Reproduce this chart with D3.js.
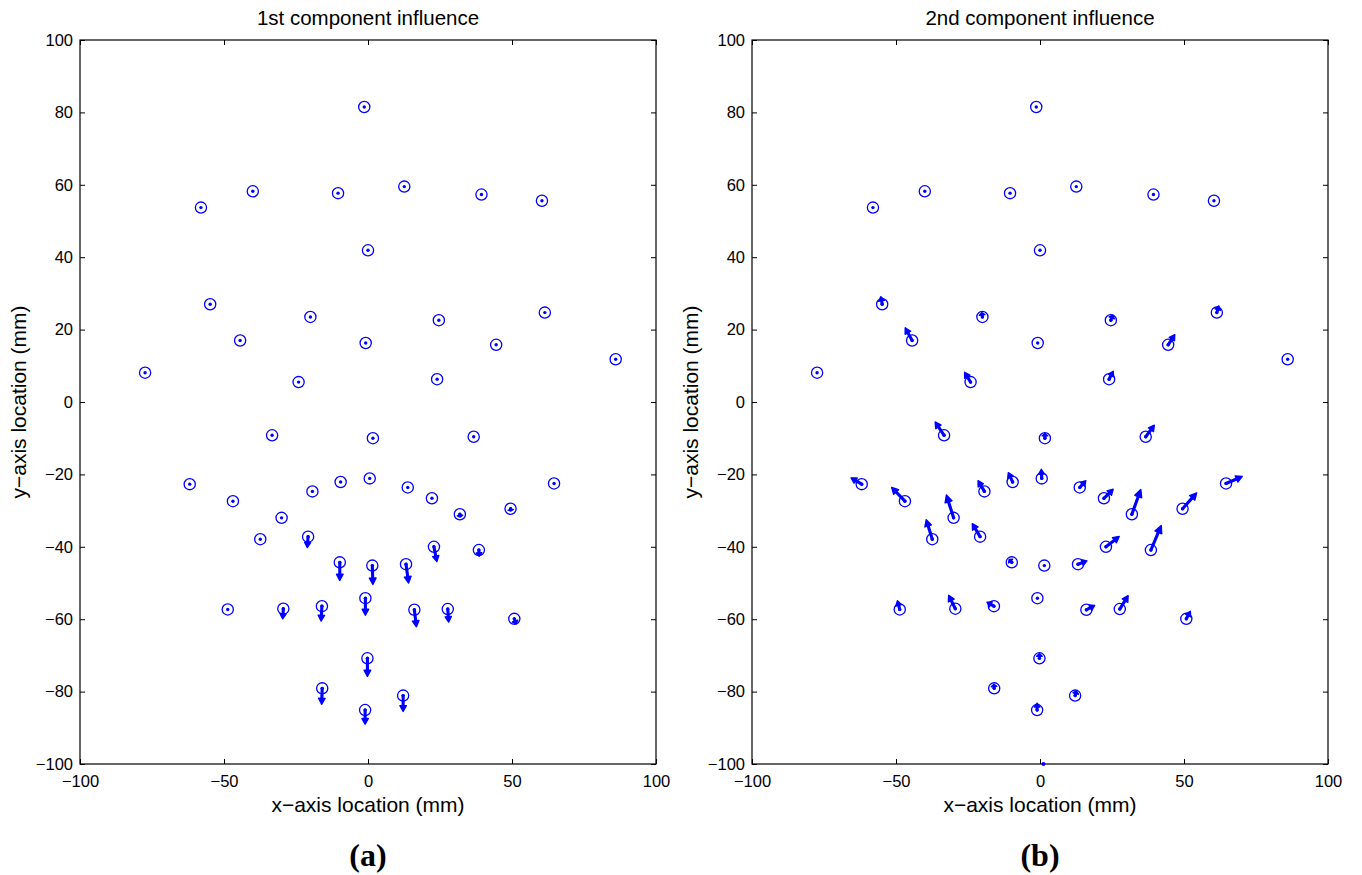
<!DOCTYPE html>
<html><head><meta charset="utf-8">
<script src="https://cdn.jsdelivr.net/npm/d3@7"></script>
<style>
body{margin:0;background:#fff}
svg{display:block}
text{font-family:"Liberation Sans",Arial,Helvetica,sans-serif;fill:#000}
</style>
</head><body>
<svg id="chart" width="1362" height="875"></svg>
<script>
// electrode locations (mm)
const sensorX = [-1.3,-58,-40,-10.4,12.6,39.4,60.4,0,-54.8,-20,-44.4,-0.8,24.6,44.5,61.4,86,-77.4,-24.1,24,-33.3,1.7,36.7,-61.9,-46.9,-19.3,-9.5,0.6,13.8,22.2,31.9,49.5,64.6,-30,-37.4,-20.8,-9.8,1.5,13.2,22.9,38.5,-48.7,-29.4,-16,-0.9,16.1,27.7,50.8,-0.2,-15.9,12.2,-1];
const sensorY = [81.5,53.7,58.2,57.7,59.5,57.3,55.6,41.9,27,23.5,17,16.3,22.6,15.8,24.7,11.8,8.1,5.5,6.3,-9.2,-10,-9.6,-22.7,-27.4,-24.7,-22.1,-21.1,-23.6,-26.6,-31,-29.5,-22.5,-32,-37.9,-37.2,-44.3,-45.2,-44.8,-40,-40.9,-57.3,-57.1,-56.4,-54.2,-57.4,-57.2,-59.9,-70.8,-79.1,-81.1,-85.1];

// 1st component influence vectors (mm)
const comp1U = [0,0,0,0,0,0,0,0,0,0,0,0,0,0,0,0,0,0,0,0,0,0,0,0,0,0,0,0,0,0.1,0.1,0,0,0,-0.3,0,0.2,0.9,1.0,0.1,0,-0.2,-0.3,0,0.7,0.3,0.6,0,-0.2,0,0];
const comp1V = [0,0,0,0,0,0,0,0,0,0,0,0,0,0,0,0,0,0,0,0,0,0,0,0,0,0,0,0,0,-0.8,-0.6,0,0,0,-3.0,-5.0,-5.2,-5.2,-4.1,-1.7,0,-2.8,-4.1,-4.7,-4.7,-3.6,-1.4,-5.0,-4.4,-4.4,-3.9];

// 2nd component influence vectors (mm)
const comp2U = [0,0,0,0,0,0,0,0,-0.45,-0.2,-2.4,0,0.7,2.3,0.7,0,0,-2.1,1.4,-3.1,0,3.0,-3.7,-4.6,-2.2,-1.5,-0.15,2.1,3.2,3.1,4.9,5.6,-2.5,-2.1,-2.7,-0.9,0,3.1,4.6,3.6,-0.8,-2.3,-2.4,0,2.9,2.9,1.4,0,-0.1,0.45,0];
const comp2V = [0,0,0,0,0,0,0,0,2.1,1.2,3.5,0,1.4,2.8,1.85,0,0,2.7,2.2,3.7,1.4,3.2,1.75,3.8,2.95,2.6,2.5,1.85,2.5,6.8,4.4,1.9,6.3,5.4,3.6,0.8,0,0.9,2.85,6.8,2.4,3.7,1.1,0,1.2,3.7,2.1,1.3,1.1,1.3,1.9];

// stray marker on the lower axis of panel (b)
const strayX = [1.2];
const strayY = [-100];

const xTicks = [-100,-50,0,50,100];
const yTicks = [-100,-80,-60,-40,-20,0,20,40,60,80,100];
const panelTitles = ["1st component influence","2nd component influence"];
const panelLabels = ["(a)","(b)"];
const xLabel = "x\u2212axis location (mm)";
const yLabel = "y\u2212axis location (mm)";

const svg = d3.select("#chart");
const blue = "#0000ff";
const fmt = d3.format("d");
const plotTop = 40, plotH = 724, plotW = 576;
const lefts = [80, 752];
const panels = [
  {u: comp1U, v: comp1V, sx: [], sy: []},
  {u: comp2U, v: comp2V, sx: strayX, sy: strayY}
];

panels.forEach((p, k) => {
  const left = lefts[k];
  const x = d3.scaleLinear().domain([-100,100]).range([left, left + plotW]);
  const y = d3.scaleLinear().domain([-100,100]).range([plotTop + plotH, plotTop]);
  const g = svg.append("g");

  const ax = g.append("g").attr("transform", `translate(0,${plotTop+plotH})`)
    .call(d3.axisBottom(x).tickValues(xTicks).tickFormat(fmt).tickSizeInner(-5).tickSizeOuter(0).tickPadding(11));
  const axT = g.append("g").attr("transform", `translate(0,${plotTop})`)
    .call(d3.axisTop(x).tickValues(xTicks).tickFormat("").tickSizeInner(-5).tickSizeOuter(0));
  const ay = g.append("g").attr("transform", `translate(${left},0)`)
    .call(d3.axisLeft(y).tickValues(yTicks).tickFormat(fmt).tickSizeInner(-5).tickSizeOuter(0).tickPadding(7));
  const ayR = g.append("g").attr("transform", `translate(${left+plotW},0)`)
    .call(d3.axisRight(y).tickValues(yTicks).tickFormat("").tickSizeInner(-5).tickSizeOuter(0));
  [ax, axT, ay, ayR].forEach(a => {
    a.select(".domain").remove();
    a.selectAll("line").attr("stroke", "#000").attr("stroke-width", 1);
    a.selectAll("text").style("font-size", "16.5px").attr("fill", "#000")
      .style("font-family", '"Liberation Sans",Arial,sans-serif');
  });
  g.append("rect").attr("x", left).attr("y", plotTop).attr("width", plotW).attr("height", plotH)
    .attr("fill", "none").attr("stroke", "#000").attr("stroke-width", 1.2);

  g.append("text").attr("x", x(0)).attr("y", 25).attr("text-anchor", "middle")
    .style("font-size", "20.5px").text(panelTitles[k]);
  g.append("text").attr("x", x(0)).attr("y", 812).attr("text-anchor", "middle")
    .style("font-size", "21px").text(xLabel);
  g.append("text").attr("transform", `translate(${left-54},${y(0)}) rotate(-90)`)
    .attr("text-anchor", "middle").style("font-size", "21px").text(yLabel);
  g.append("text").attr("x", x(0)).attr("y", 866).attr("text-anchor", "middle")
    .style("font-family", '"Liberation Serif","DejaVu Serif",serif').style("font-weight", "bold")
    .style("font-size", "32px").text(panelLabels[k]);

  const idx = d3.range(sensorX.length);
  g.append("g").selectAll("circle").data(idx).join("circle")
    .attr("cx", i => x(sensorX[i])).attr("cy", i => y(sensorY[i])).attr("r", 5.6)
    .attr("fill", "none").attr("stroke", blue).attr("stroke-width", 1.3);

  const ag = g.append("g");
  idx.forEach(i => {
    const x0 = x(sensorX[i]), y0 = y(sensorY[i]);
    const x1 = x(sensorX[i] + p.u[i]), y1 = y(sensorY[i] + p.v[i]);
    const dx = x1 - x0, dy = y1 - y0, len = Math.hypot(dx, dy);
    ag.append("circle").attr("cx", x0).attr("cy", y0).attr("r", 1.7).attr("fill", blue);
    if (len < 1.5) return;
    const ux = dx / len, uy = dy / len;
    const hl = Math.min(len * 0.55, 3.5 + 0.15 * len), hw = 2.6 + 0.04 * len;
    const bx = x1 - ux * hl, by = y1 - uy * hl;
    ag.append("line").attr("x1", x0).attr("y1", y0).attr("x2", bx).attr("y2", by)
      .attr("stroke", blue).attr("stroke-width", 3.1).attr("stroke-linecap", "round");
    ag.append("path")
      .attr("d", `M${x1},${y1}L${bx - uy*hw},${by + ux*hw}L${bx + uy*hw},${by - ux*hw}Z`)
      .attr("fill", blue).attr("stroke", blue).attr("stroke-width", 1.4).attr("stroke-linejoin", "round");
  });
  p.sx.forEach((sx, j) => {
    ag.append("circle").attr("cx", x(sx)).attr("cy", y(p.sy[j])).attr("r", 2).attr("fill", blue);
  });
});
</script>
</body></html>
